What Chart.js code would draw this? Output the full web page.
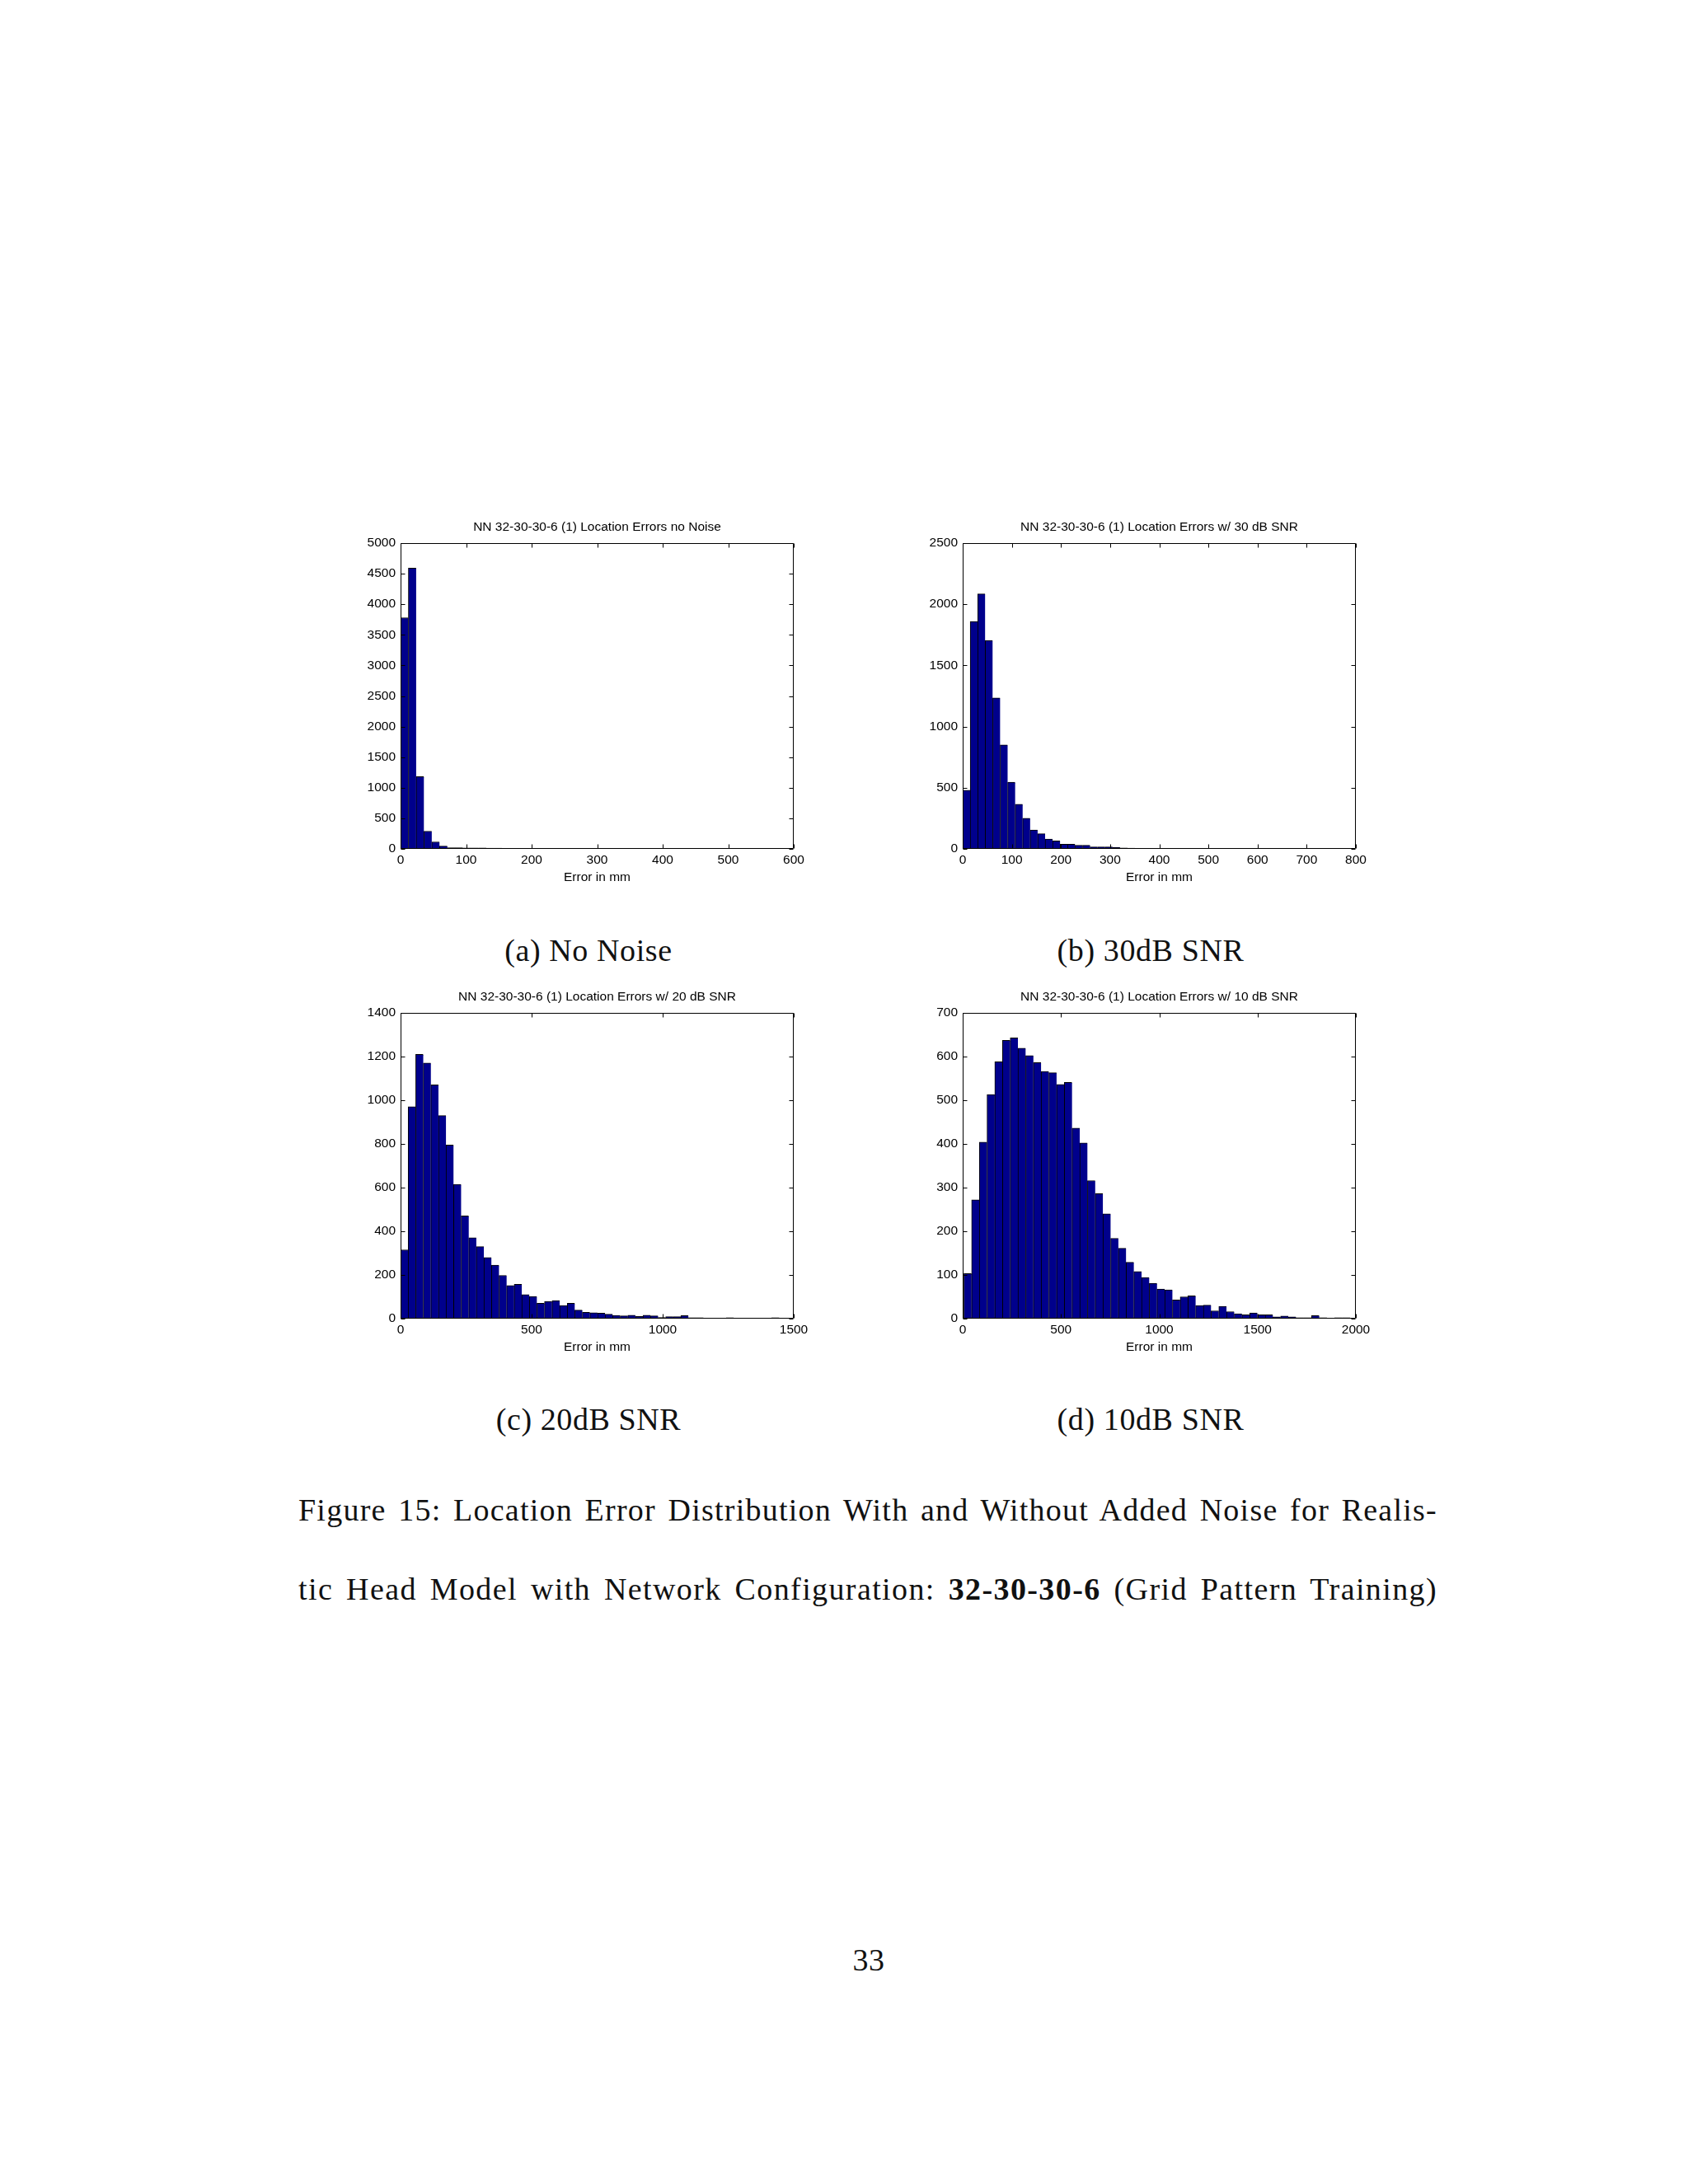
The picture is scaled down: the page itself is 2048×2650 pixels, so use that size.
<!DOCTYPE html>
<html>
<head>
<meta charset="utf-8">
<script src="https://cdn.jsdelivr.net/npm/chart.js@4.4.1/dist/chart.umd.min.js"></script>
<style>
  html, body { margin: 0; padding: 0; background: #fff; }
  body { width: 2048px; height: 2650px; position: relative; overflow: hidden; }
  canvas { position: absolute; }
  .serif { position: absolute; font-family: "Liberation Serif", "Times New Roman", serif; color: #111; white-space: nowrap; font-size: 38px; line-height: 46px; }
  .sub { width: 400px; text-align: center; letter-spacing: 0.6px; }
</style>
</head>
<body>

<div class="serif sub" style="left:514px; top:1130px;">(a) No Noise</div>
<div class="serif sub" style="left:1196px; top:1130px;">(b) 30dB SNR</div>
<div class="serif sub" style="left:514px; top:1699px;">(c) 20dB SNR</div>
<div class="serif sub" style="left:1196px; top:1699px;">(d) 10dB SNR</div>

<div class="serif" style="left:362px; top:1809px;"><span class="just">Figure 15: Location Error Distribution With and Without Added Noise for Realis-</span></div>
<div class="serif" style="left:362px; top:1905px;"><span class="just">tic Head Model with Network Configuration: <b>32-30-30-6</b> (Grid Pattern Training)</span></div>

<div class="serif sub" style="left:854px; width:400px; top:2355px;">33</div>

<script>
// histogram counts (50 bins each)
const countsNoNoise = [3780, 4590, 1180, 290, 115, 45, 20, 18, 17, 16, 15, 14, 13, 0, 6, 0, 6, 0, 0, 6,
  0, 0, 6, 0, 6, 0, 0, 0, 0, 0, 0, 0, 0, 0, 0, 0, 0, 0, 0, 0,
  0, 0, 6, 0, 0, 0, 0, 0, 0, 6];
const countsSnr30 = [480, 1860, 2085, 1705, 1235, 850, 545, 365, 250, 155, 124, 81, 65, 38, 38, 29, 29, 16, 16, 16,
  13, 8, 6, 5, 5, 3, 3, 2, 2, 2, 2, 1, 2, 1, 1, 0, 1, 1, 1, 0,
  0, 0, 1, 1, 0, 0, 1, 1, 0, 1];
const countsSnr20 = [315, 970, 1210, 1170, 1070, 930, 795, 615, 470, 370, 330, 280, 245, 198, 152, 157, 110, 102, 70, 79,
  83, 60, 70, 39, 29, 27, 25, 20, 15, 13, 16, 10, 16, 13, 5, 9, 9, 14, 4, 4,
  3, 0, 0, 4, 1, 0, 0, 0, 0, 4];
const countsSnr10 = [103, 272, 404, 513, 588, 637, 643, 619, 602, 586, 566, 563, 536, 541, 436, 402, 316, 286, 240, 184,
  161, 129, 108, 94, 81, 68, 66, 43, 50, 52, 30, 31, 18, 28, 16, 11, 9, 13, 9, 9,
  4, 6, 4, 2, 2, 7, 2, 0, 2, 2];

// bin layout of each histogram (mm): left edge of first bin, bin width
const binStart = [0, 0, 0, 6];
const binWidth = [11.9, 15.25, 28.9, 39.3];

const titles = [
  'NN 32-30-30-6 (1) Location Errors no Noise',
  'NN 32-30-30-6 (1) Location Errors w/ 30 dB SNR',
  'NN 32-30-30-6 (1) Location Errors w/ 20 dB SNR',
  'NN 32-30-30-6 (1) Location Errors w/ 10 dB SNR'
];
const xMax = [600, 800, 1500, 2000];
const xStep = [100, 100, 500, 500];
const yMax = [5000, 2500, 1400, 700];
const yStep = [500, 500, 200, 100];
const xLabel = 'Error in mm';

const allCounts = [countsNoNoise, countsSnr30, countsSnr20, countsSnr10];

// plot box positions on the page
const panels = [
  { left: 486, top: 659 },
  { left: 1168, top: 659 },
  { left: 486, top: 1229 },
  { left: 1168, top: 1229 }
];
const PLOT_W = 477, PLOT_H = 371;
const PAD_L = 80, PAD_R = 80, PAD_T = 40, PAD_B = 60;

const SANS = "'Liberation Sans', Arial, Helvetica, sans-serif";
const BAR_FILL = '#00008c';
const axisFont = { family: SANS, size: 15.5, lineHeight: 1.2 };

// matlab style box with inward ticks on all four sides
const boxTicks = {
  id: 'boxTicks',
  afterDraw(chart) {
    const { ctx, chartArea: a } = chart;
    const x = chart.scales.x, y = chart.scales.y;
    const L = Math.round(a.left) + 0.5, R = Math.round(a.right) - 0.5;
    const T = Math.round(a.top) + 0.5, B = Math.round(a.bottom) - 0.5;
    const len = 5;
    ctx.save();
    ctx.strokeStyle = '#000';
    ctx.lineWidth = 1;
    ctx.beginPath();
    ctx.rect(L, T, R - L, B - T);
    x.ticks.forEach(t => {
      const px = Math.round(x.getPixelForValue(t.value)) + 0.5;
      ctx.moveTo(px, B); ctx.lineTo(px, B - len);
      ctx.moveTo(px, T); ctx.lineTo(px, T + len);
    });
    y.ticks.forEach(t => {
      const py = Math.round(y.getPixelForValue(t.value)) + 0.5;
      ctx.moveTo(L, py); ctx.lineTo(L + len, py);
      ctx.moveTo(R, py); ctx.lineTo(R - len, py);
    });
    ctx.stroke();
    ctx.restore();
  }
};

function drawHist(i) {
  const p = panels[i];
  const w = PAD_L + PLOT_W + PAD_R, h = PAD_T + PLOT_H + PAD_B;
  const canvas = document.createElement('canvas');
  canvas.width = w;
  canvas.height = h;
  canvas.style.left = (p.left - PAD_L) + 'px';
  canvas.style.top = (p.top - PAD_T) + 'px';
  canvas.style.width = w + 'px';
  canvas.style.height = h + 'px';
  document.body.appendChild(canvas);

  const points = allCounts[i].map((c, k) => ({ x: binStart[i] + binWidth[i] * (k + 0.5), y: c }));

  new Chart(canvas, {
    type: 'bar',
    data: {
      datasets: [{
        data: points,
        xAxisID: 'x',
        yAxisID: 'y',
        backgroundColor: BAR_FILL,
        borderColor: '#000',
        borderWidth: { left: 1, top: 1, right: 0, bottom: 0 },
        borderSkipped: false,
        barPercentage: 1,
        categoryPercentage: 1
      }]
    },
    options: {
      responsive: false,
      animation: false,
      devicePixelRatio: 1,
      layout: { padding: 0 },
      plugins: {
        legend: { display: false },
        tooltip: { enabled: false },
        title: {
          display: true,
          text: titles[i],
          color: '#000',
          font: { family: SANS, size: 15.5, lineHeight: 1.2, weight: 'normal' },
          padding: { top: 11.7, bottom: 9.7 }
        }
      },
      scales: {
        x: {
          type: 'linear',
          position: 'bottom',
          min: 0,
          max: xMax[i],
          offset: false,
          grid: { display: false, drawTicks: false, tickLength: 0, offset: false },
          border: { display: false },
          ticks: {
            stepSize: xStep[i],
            autoSkip: false,
            maxRotation: 0,
            padding: 4,
            color: '#000',
            font: axisFont,
            callback: v => String(v)
          },
          title: {
            display: true,
            text: xLabel,
            color: '#000',
            font: axisFont,
            padding: { top: 0, bottom: 15.7 }
          },
          afterFit: s => { s.height = PAD_B; }
        },
        y: {
          type: 'linear',
          position: 'left',
          min: 0,
          max: yMax[i],
          grid: { display: false, drawTicks: false, tickLength: 0 },
          border: { display: false },
          ticks: {
            stepSize: yStep[i],
            autoSkip: false,
            padding: 6,
            color: '#000',
            font: axisFont,
            callback: v => String(v)
          },
          afterFit: s => { s.width = PAD_L; }
        },
        yr: {
          type: 'linear',
          position: 'right',
          grid: { display: false, drawTicks: false, tickLength: 0 },
          border: { display: false },
          ticks: { display: false },
          afterFit: s => { s.width = PAD_R; }
        }
      }
    },
    plugins: [boxTicks]
  });
}

for (let i = 0; i < panels.length; i++) drawHist(i);

// justify the two caption lines to the text block width:
// most of the gap goes into letter spacing (the original face is wider), the rest into spaces
const TEXT_W = 1382;
document.querySelectorAll('.just').forEach(span => {
  const text = span.textContent;
  const natural = span.getBoundingClientRect().width;
  const spaces = (text.match(/ /g) || []).length;
  const gap = TEXT_W - natural;
  const ls = gap * 0.7 / text.length;
  span.style.letterSpacing = ls + 'px';
  const after = span.getBoundingClientRect().width;
  if (spaces > 0) span.style.wordSpacing = ((TEXT_W - after) / spaces) + 'px';
});
</script>
</body>
</html>
